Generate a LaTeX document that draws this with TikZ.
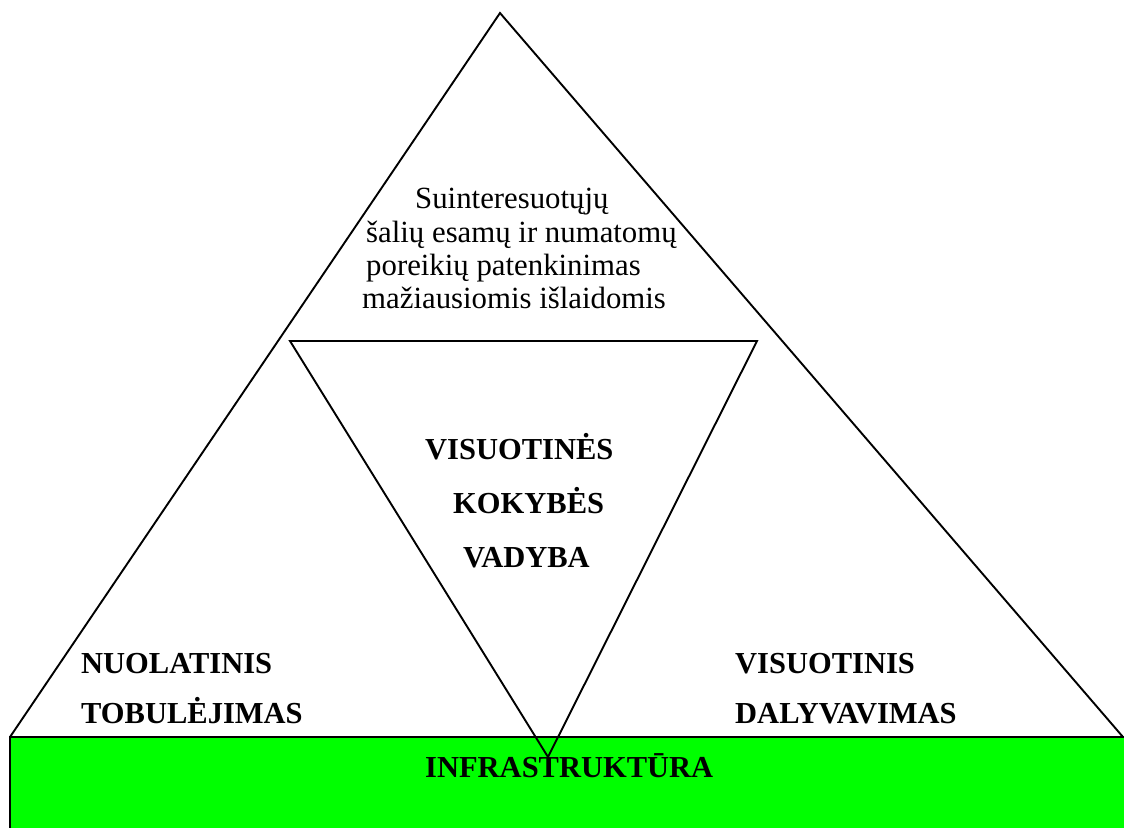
\documentclass[tikz,border=0pt]{standalone}
\usepackage{fontspec}
\setmainfont{Liberation Serif}
\definecolor{infragreen}{HTML}{00FF00}
\tikzset{
  edge/.style={draw=black, line width=1.9pt, line join=miter},
  plain/.style={anchor=base west, inner sep=0pt, font=\fontsize{30.8}{33}\selectfont},
  heading/.style={anchor=base west, inner sep=0pt, font=\fontsize{30.5}{33}\selectfont\bfseries},
}
\begin{document}
\begin{tikzpicture}[x=1pt,y=-1pt]
\useasboundingbox (0,0) rectangle (1124,827);
% outer triangle
\coordinate (apex) at (500,13);
\coordinate (bl) at (10,737);
\coordinate (br) at (1123,737);
\draw[edge] (bl) -- (apex) -- (br);
% infrastructure base
\coordinate (baseNW) at (10,737);
\coordinate (baseSE) at (1130,835);
\filldraw[fill=infragreen, edge] (baseNW) rectangle (baseSE);
% inner inverted triangle
\coordinate (itl) at (290,341);
\coordinate (itr) at (757,341);
\coordinate (ibot) at (548,757);
\draw[edge] (itl) -- (itr) -- (ibot) -- cycle;
% goal text at the top
\node[plain] (g1) at (415,208) {Suinteresuotųjų};
\node[plain] (g2) at (366,242) {šalių esamų ir numatomų};
\node[plain] (g3) at (366,275) {poreikių patenkinimas};
\node[plain] (g4) at (362,308) {mažiausiomis išlaidomis};
% centre
\node[heading] (c1) at (425,459) {VISUOTINĖS};
\node[heading] (c2) at (453,513) {KOKYBĖS};
\node[heading] (c3) at (463,567) {VADYBA};
% left corner
\node[heading] (l1) at (81,673) {NUOLATINIS};
\node[heading] (l2) at (81,723) {TOBULĖJIMAS};
% right corner
\node[heading] (r1) at (735,673) {VISUOTINIS};
\node[heading] (r2) at (735,723) {DALYVAVIMAS};
% base label
\node[heading] (infra) at (425,777) {INFRASTRUKTŪRA};
\end{tikzpicture}
\end{document}
